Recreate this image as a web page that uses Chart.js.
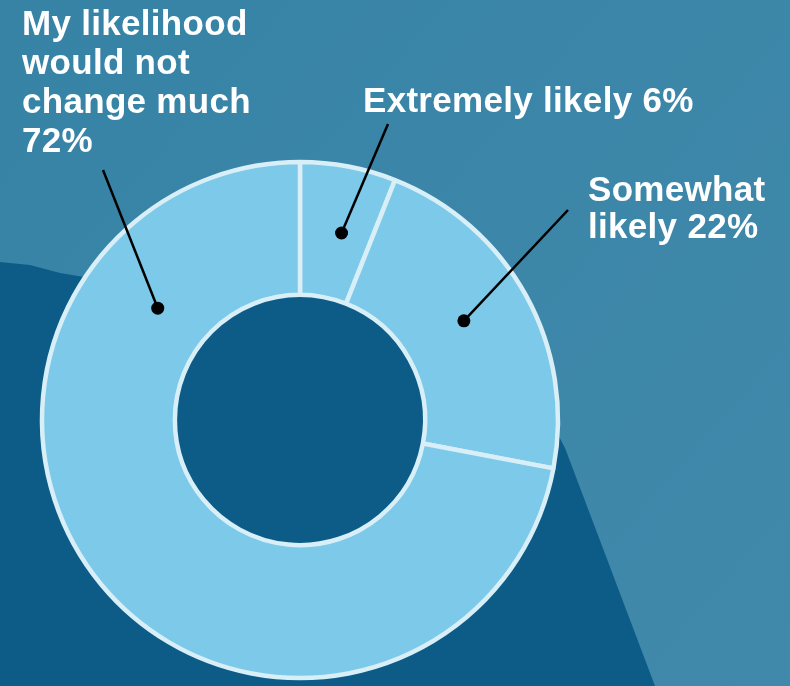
<!DOCTYPE html>
<html lang="en">
<head>
  <meta charset="UTF-8" />
  <title>Likelihood</title>
  <script src="https://cdn.jsdelivr.net/npm/chart.js"></script>
  <style>
    html, body { margin: 0; padding: 0; background: #3a86a8; }
    #wrap { width: 790px; height: 686px; position: relative; }
  </style>
</head>
<body>
  <div id="wrap"><canvas id="donut"></canvas></div>
  <script>
    const categories = ['Extremely likely', 'Somewhat likely', 'My likelihood would not change much']
    const shares = [6, 22, 72]
    // label text, one entry per line, in the same order as categories
    const labelLines = [
      ['Extremely likely 6%'],
      ['Somewhat', 'likely 22%'],
      ['My likelihood', 'would not', 'change much', '72%']
    ]

    // where each label sits and where its leader line starts
    const callouts = [
      { x: 363, y: 112, lineH: 39, from: [388, 124], along: 0.58, depth: 0.5 },
      { x: 588, y: 201, lineH: 37, from: [568, 210], along: 0.47, depth: 0.5 },
      { x: 22,  y: 35,  lineH: 39, from: [103, 170], along: 0.80, depth: 0.42 }
    ]

    const backdrop = {
      id: 'backdrop',
      beforeDraw(chart) {
        const ctx = chart.ctx
        ctx.save()
        const g = ctx.createLinearGradient(0, 0, 790, 686)
        g.addColorStop(0, '#3683a6')
        g.addColorStop(1, '#4189ab')
        ctx.fillStyle = g
        ctx.fillRect(0, 0, chart.width, chart.height)
        // darker shape behind the ring
        ctx.fillStyle = '#0d5c88'
        ctx.beginPath()
        ctx.moveTo(0, 262)
        ctx.lineTo(30, 265)
        ctx.lineTo(60, 273)
        ctx.lineTo(90, 278)
        ctx.lineTo(300, 285)
        ctx.lineTo(440, 300)
        ctx.lineTo(540, 400)
        ctx.lineTo(565, 448)
        ctx.lineTo(655, 686)
        ctx.lineTo(0, 686)
        ctx.closePath()
        ctx.fill()
        ctx.restore()
      }
    }

    const callout = {
      id: 'callout',
      afterDraw(chart) {
        const ctx = chart.ctx
        const arcs = chart.getDatasetMeta(0).data
        ctx.save()
        arcs.forEach((arc, i) => {
          const c = callouts[i]
          const p = arc.getProps(['x', 'y', 'startAngle', 'endAngle', 'innerRadius', 'outerRadius'], true)
          const a = p.startAngle + (p.endAngle - p.startAngle) * c.along
          const r = p.innerRadius + (p.outerRadius - p.innerRadius) * c.depth
          const dx = p.x + Math.cos(a) * r
          const dy = p.y + Math.sin(a) * r

          ctx.strokeStyle = '#000'
          ctx.lineWidth = 2.5
          ctx.beginPath()
          ctx.moveTo(c.from[0], c.from[1])
          ctx.lineTo(dx, dy)
          ctx.stroke()
          ctx.fillStyle = '#000'
          ctx.beginPath()
          ctx.arc(dx, dy, 6.5, 0, Math.PI * 2)
          ctx.fill()

          ctx.fillStyle = '#ffffff'
          ctx.font = 'bold 35px "Liberation Sans", Arial, sans-serif'
          ctx.letterSpacing = '0.3px'
          ctx.textBaseline = 'alphabetic'
          ctx.textAlign = 'left'
          labelLines[i].forEach((t, k) => ctx.fillText(t, c.x, c.y + k * c.lineH))
        })
        ctx.restore()
      }
    }

    new Chart(document.getElementById('donut'), {
      type: 'doughnut',
      data: {
        labels: categories,
        datasets: [{
          data: shares,
          backgroundColor: '#7dc9e9',
          borderColor: '#d8eff8',
          borderWidth: 4.5
        }]
      },
      options: {
        responsive: true,
        maintainAspectRatio: false,
        animation: false,
        cutout: '48.5%',
        radius: 258,
        rotation: 0,
        layout: { padding: { left: 42, right: 232, top: 162, bottom: 8 } },
        plugins: {
          legend: { display: false },
          tooltip: { enabled: false }
        }
      },
      plugins: [backdrop, callout]
    })
  </script>
</body>
</html>
